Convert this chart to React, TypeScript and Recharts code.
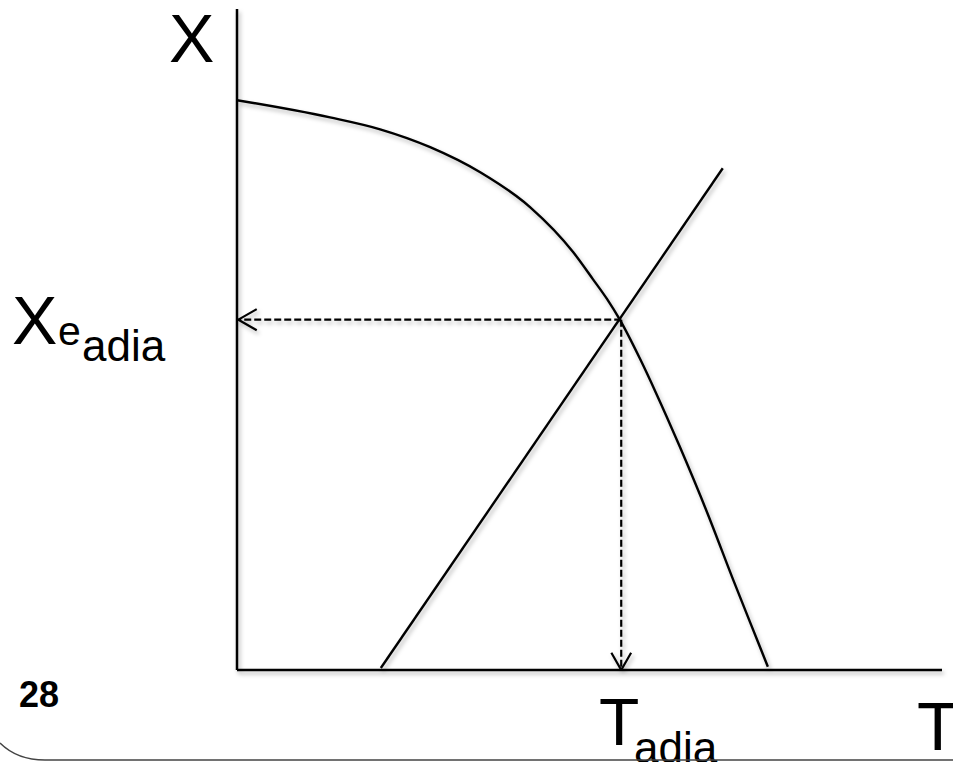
import React from 'react'
import { ComposedChart, Line, XAxis, YAxis } from 'recharts'

// equilibrium conversion curve X_e(T) (T and X in 0..100)
const equilibriumCurve = [
  { T: 0, X: 86.2 },
  { T: 13.2, X: 83.6 },
  { T: 20.3, X: 81.8 },
  { T: 27.4, X: 79.1 },
  { T: 34.5, X: 75.3 },
  { T: 41.6, X: 70.0 },
  { T: 47.7, X: 63.2 },
  { T: 50.5, X: 59.1 },
  { T: 52.5, X: 56.1 },
  { T: 54.3, X: 53.0 },
  { T: 57.2, X: 47.0 },
  { T: 59.4, X: 42.0 },
  { T: 62.8, X: 33.8 },
  { T: 66.7, X: 23.8 },
  { T: 70.4, X: 13.6 },
  { T: 73.8, X: 4.5 },
  { T: 75.3, X: 0.5 },
]

// adiabatic energy balance line
const energyBalance = [
  { T: 20.4, X: 0.3 },
  { T: 68.9, X: 75.9 },
]

// dashed guides from the intersection
const guideToX = [
  { T: 54.5, X: 53 },
  { T: 0.2, X: 53 },
]
const guideToT = [
  { T: 54.5, X: 53 },
  { T: 54.5, X: 0 },
]

// arrow heads
const arrowLeft = [
  { T: 2.8, X: 54.6 },
  { T: 0.2, X: 53 },
  { T: 2.8, X: 51.4 },
]
const arrowDown = [
  { T: 53.1, X: 2.6 },
  { T: 54.5, X: 0 },
  { T: 55.9, X: 2.6 },
]

const font = '"Liberation Sans", Arial, Helvetica, sans-serif'

export default function App() {
  return (
    <div
      style={{
        position: 'absolute',
        left: 0,
        top: 0,
        width: 953,
        height: 762,
        background: '#fff',
        overflow: 'hidden',
      }}
    >
      <div style={{ filter: 'drop-shadow(2px 3px 2px rgba(0,0,0,0.28))' }}>
        <ComposedChart
          width={953}
          height={762}
          margin={{ top: 9, right: 11, bottom: 91, left: 236 }}
        >
          <XAxis
            type="number"
            dataKey="T"
            domain={[0, 100]}
            allowDataOverflow
            tick={false}
            tickLine={false}
            height={1}
            axisLine={{ stroke: '#000', strokeWidth: 2.5 }}
          />
          <YAxis
            type="number"
            dataKey="X"
            domain={[0, 100]}
            allowDataOverflow
            tick={false}
            tickLine={false}
            width={1}
            axisLine={{ stroke: '#000', strokeWidth: 2.5 }}
          />
          <Line
            data={equilibriumCurve}
            dataKey="X"
            type="monotone"
            stroke="#000"
            strokeWidth={2.4}
            dot={false}
            isAnimationActive={false}
          />
          <Line
            data={energyBalance}
            dataKey="X"
            type="linear"
            stroke="#000"
            strokeWidth={2.4}
            dot={false}
            isAnimationActive={false}
          />
          <Line
            data={guideToX}
            dataKey="X"
            type="linear"
            stroke="#000"
            strokeWidth={2.2}
            strokeDasharray="7 3"
            dot={false}
            isAnimationActive={false}
          />
          <Line
            data={guideToT}
            dataKey="X"
            type="linear"
            stroke="#000"
            strokeWidth={2.2}
            strokeDasharray="7 3"
            dot={false}
            isAnimationActive={false}
          />
          <Line
            data={arrowLeft}
            dataKey="X"
            type="linear"
            stroke="#000"
            strokeWidth={2.2}
            dot={false}
            isAnimationActive={false}
          />
          <Line
            data={arrowDown}
            dataKey="X"
            type="linear"
            stroke="#000"
            strokeWidth={2.2}
            dot={false}
            isAnimationActive={false}
          />
        </ComposedChart>
      </div>

      {/* labels and slide frame */}
      <svg
        width={953}
        height={762}
        style={{ position: 'absolute', left: 0, top: 0, pointerEvents: 'none' }}
      >
        <text x={169} y={62} fontFamily={font} fontSize={68} fill="#000">
          X
        </text>
        <text x={12} y={344} fontFamily={font} fontSize={68} fill="#000">
          X
        </text>
        <text x={58} y={345} fontFamily={font} fontSize={41} fill="#000">
          e
        </text>
        <text x={82} y={361} fontFamily={font} fontSize={44} fill="#000">
          adia
        </text>
        <text x={599} y={745} fontFamily={font} fontSize={66} fill="#000">
          T
        </text>
        <text x={634} y={763} fontFamily={font} fontSize={44} fill="#000">
          adia
        </text>
        <text x={917} y={750} fontFamily={font} fontSize={68} fill="#000">
          T
        </text>
        <text x={19} y={707} fontFamily={font} fontSize={36} fontWeight="bold" fill="#000">
          28
        </text>
        <path
          d="M 0 743 C 10 753 25 760 45 760 L 953 760"
          fill="none"
          stroke="#444"
          strokeWidth={1.5}
        />
      </svg>
    </div>
  )
}
